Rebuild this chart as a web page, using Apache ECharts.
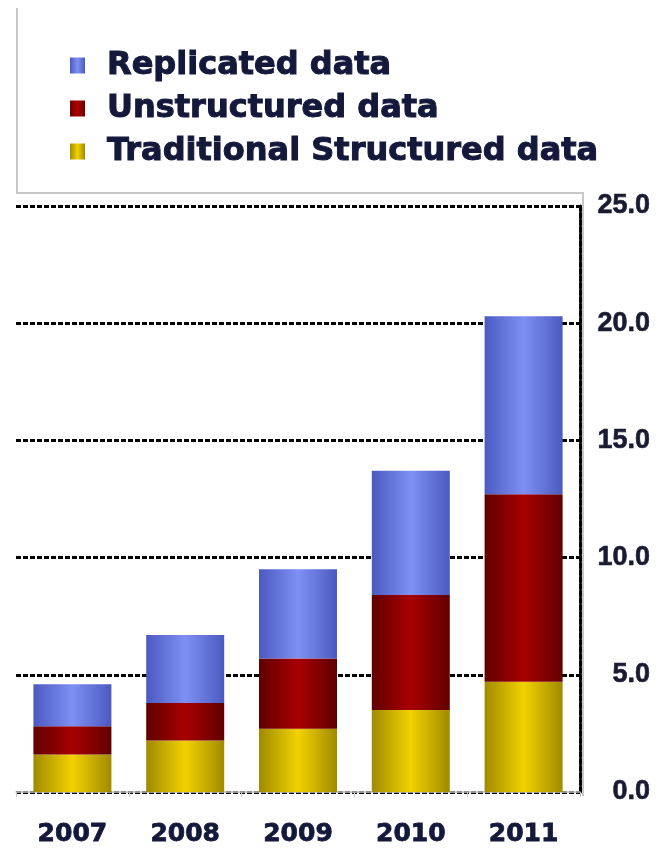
<!DOCTYPE html>
<html>
<head>
<meta charset="utf-8">
<script src="https://cdn.jsdelivr.net/npm/echarts@6/dist/echarts.min.js"></script>
<style>
html,body{margin:0;padding:0;background:#fff;}
#chart{width:660px;height:849px;}
</style>
</head>
<body>
<div id="chart"></div>
<script>
var categories = ['2007', '2008', '2009', '2010', '2011'];
var traditionalStructured = [1.6, 2.2, 2.7, 3.5, 4.7];
var unstructured = [1.2, 1.6, 3.0, 4.9, 8.0];
var replicated = [1.8, 2.9, 3.8, 5.3, 7.6];
var yTicks = [0, 5, 10, 15, 20, 25];

var chart = echarts.init(document.getElementById('chart'));

function cyl(edge, mid) {
  return new echarts.graphic.LinearGradient(0, 0, 1, 0, [
    {offset: 0, color: edge},
    {offset: 0.5, color: mid},
    {offset: 1, color: edge}
  ]);
}

var dotted = {color: '#000', width: 3, type: [5, 2]};
var textNavy = '#14183a';

var option = {
  backgroundColor: '#ffffff',
  animation: false,
  grid: {left: 16, right: 80, top: 206, bottom: 57},
  legend: {
    orient: 'vertical',
    left: 65,
    top: 44,
    itemWidth: 15,
    itemHeight: 16,
    itemGap: 10,
    icon: 'rect',
    data: [
      {name: 'Replicated data', itemStyle: {color: cyl('#4c5ac0', '#7e90f4')}},
      {name: 'Unstructured data', itemStyle: {color: cyl('#6a0000', '#b00000')}},
      {name: 'Traditional Structured data', itemStyle: {color: cyl('#a08a00', '#f2d200')}}
    ],
    textStyle: {
      fontFamily: 'DejaVu Sans',
      fontWeight: 'bold',
      fontSize: 32,
      color: textNavy,
      textBorderColor: textNavy,
      textBorderWidth: 1,
      padding: [0, 0, 0, 17]
    }
  },
  xAxis: {
    type: 'category',
    data: categories,
    offset: 5,
    axisLine: {show: true, lineStyle: {color: '#c4c4c4', width: 1.5}},
    axisTick: {show: true, length: 5, lineStyle: {color: '#c4c4c4'}},
    axisLabel: {
      margin: 25,
      fontFamily: 'DejaVu Sans',
      fontWeight: 'bold',
      fontSize: 25,
      color: textNavy,
      textBorderColor: textNavy,
      textBorderWidth: 0.8
    },
    splitLine: {show: false}
  },
  yAxis: {
    type: 'value',
    position: 'right',
    min: 0,
    max: 25,
    interval: 5,
    axisLine: {show: true, lineStyle: dotted},
    axisTick: {show: false},
    splitLine: {show: true, lineStyle: dotted},
    axisLabel: {
      margin: 70,
      align: 'right',
      fontFamily: 'Liberation Sans',
      fontWeight: 'bold',
      fontSize: 27,
      color: '#1a1a33',
      textBorderColor: '#1a1a33',
      textBorderWidth: 0.6,
      formatter: function (v) { return yTicks.indexOf(v) >= 0 ? v.toFixed(1) : ''; }
    }
  },
  graphic: [{
    type: 'polyline',
    z: -1,
    shape: {points: [[17, 8], [17, 193], [583, 193], [583, 796]]},
    style: {stroke: '#c8c8c8', lineWidth: 2, fill: null}
  }],
  series: [
    {
      name: 'Traditional Structured data',
      type: 'bar',
      stack: 'total',
      barWidth: 78,
      data: traditionalStructured,
      itemStyle: {color: cyl('#a08a00', '#f2d200')}
    },
    {
      name: 'Unstructured data',
      type: 'bar',
      stack: 'total',
      barWidth: 78,
      data: unstructured,
      itemStyle: {color: cyl('#600000', '#a80000')}
    },
    {
      name: 'Replicated data',
      type: 'bar',
      stack: 'total',
      barWidth: 78,
      data: replicated,
      itemStyle: {color: cyl('#4c5ac0', '#7e90f4')}
    }
  ]
};

chart.setOption(option);
</script>
</body>
</html>
